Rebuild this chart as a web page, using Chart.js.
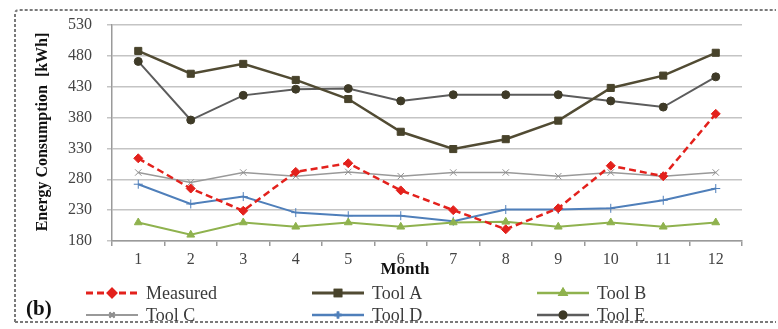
<!DOCTYPE html>
<html>
<head>
<meta charset="utf-8">
<script src="https://cdn.jsdelivr.net/npm/chart.js@4.4.1/dist/chart.umd.min.js"></script>
<style>
  html, body { margin: 0; padding: 0; background: #fff; }
  #wrap { width: 778px; height: 329px; position: relative; }
</style>
</head>
<body>
<div id="wrap"><canvas id="canvas" width="778" height="329"></canvas></div>
<script>
var months = ['1', '2', '3', '4', '5', '6', '7', '8', '9', '10', '11', '12'];
var measured = [314, 265, 229, 292, 306, 262, 230, 199, 233, 302, 285, 386];
var toolA = [488, 451, 467, 441, 410, 357, 329, 345, 375, 428, 448, 485];
var toolB = [210, 190, 210, 203, 210, 203, 210, 211, 203, 210, 203, 210];
var toolC = [291, 275, 291, 285, 292, 285, 291, 291, 285, 291, 285, 291];
var toolD = [272, 240, 252, 226, 221, 221, 212, 231, 231, 233, 246, 265];
var toolE = [471, 376, 416, 426, 427, 407, 417, 417, 417, 407, 397, 446];
var yTicks = [180, 230, 280, 330, 380, 430, 480, 530];

var serif = '"Liberation Serif", "Times New Roman", serif';

// legend is drawn by hand: 3 columns x 2 rows like the original figure
var legendCols = [86, 312, 537];
var legendRows = [293, 315];

var figurePlugin = {
    id: 'figure',
    afterDraw: function (chart) {
        var ctx = chart.ctx;
        ctx.save();

        // dashed frame
        ctx.strokeStyle = '#7a7a7a';
        ctx.lineWidth = 2;
        ctx.setLineDash([3, 2]);
        ctx.beginPath();
        ctx.moveTo(15, 322);
        ctx.lineTo(15, 14);
        ctx.quadraticCurveTo(15, 10, 19, 10);
        ctx.lineTo(776, 10);
        ctx.moveTo(15, 322);
        ctx.lineTo(776, 322);
        ctx.stroke();
        ctx.setLineDash([]);

        // y title
        ctx.fillStyle = '#111';
        ctx.font = 'bold 16px ' + serif;
        ctx.textAlign = 'center';
        ctx.textBaseline = 'middle';
        ctx.save();
        ctx.translate(43, 132);
        ctx.rotate(-Math.PI / 2);
        ctx.fillText('Energy Consumption  [kWh]', 0, 0);
        ctx.restore();

        // x title
        ctx.font = 'bold 17px ' + serif;
        ctx.fillText('Month', 405, 270);

        // (b)
        ctx.font = 'bold 21px ' + serif;
        ctx.textAlign = 'left';
        ctx.fillText('(b)', 26, 310);

        // legend
        chart.data.datasets.forEach(function (ds, k) {
            var x1 = legendCols[k % 3], x2 = x1 + 52, y = legendRows[Math.floor(k / 3)];
            ctx.strokeStyle = ds.borderColor;
            ctx.lineWidth = ds.borderWidth + 0.5;
            ctx.setLineDash(ds.borderDash || []);
            ctx.beginPath();
            ctx.moveTo(x1, y);
            ctx.lineTo(x2, y);
            ctx.stroke();
            ctx.setLineDash([]);
            Chart.helpers.drawPoint(ctx, {
                pointStyle: ds.pointStyle,
                radius: ds.pointRadius * 0.8,
                borderWidth: ds.pointBorderWidth || 1,
                rotation: 0
            }, (x1 + x2) / 2, y);
            ctx.fillStyle = ds.pointBackgroundColor;
            ctx.strokeStyle = ds.pointBorderColor;
            ctx.fill();
            ctx.stroke();
            ctx.fillStyle = '#3a3a3a';
            ctx.font = '18px ' + serif;
            ctx.textAlign = 'left';
            ctx.textBaseline = 'middle';
            ctx.fillText(ds.label, x2 + 8, y + 1);
        });
        ctx.restore();
    }
};

function series(label, data, line, point, style, radius, width, dash) {
    return {
        label: label,
        data: data,
        borderColor: line,
        borderWidth: width,
        borderDash: dash || [],
        backgroundColor: point,
        pointBackgroundColor: point,
        pointBorderColor: point,
        pointBorderWidth: 1,
        pointStyle: style,
        pointRadius: radius,
        fill: false,
        tension: 0
    };
}

var ctx = document.getElementById('canvas');
var myChart = new Chart(ctx, {
    type: 'line',
    data: {
        labels: months,
        datasets: [
            series('Measured', measured, '#e3211c', '#e3211c', 'rectRot', 4.5, 2.5, [7, 4]),
            series('Tool A', toolA, '#514b33', '#48432b', 'rect', 5, 2.5),
            series('Tool B', toolB, '#8fb24e', '#8fb24e', 'triangle', 4.5, 2),
            series('Tool C', toolC, '#999999', '#8f8f8f', 'crossRot', 4.5, 1.5),
            series('Tool D', toolD, '#4f7fba', '#4f7fba', 'cross', 4.5, 2),
            series('Tool E', toolE, '#5c5c5c', '#3e3a27', 'circle', 4, 2)
        ]
    },
    options: {
        responsive: false,
        animation: false,
        devicePixelRatio: 1,
        layout: { padding: { left: 0, right: 36, top: 25, bottom: 0 } },
        plugins: {
            legend: { display: false },
            tooltip: { enabled: false }
        },
        scales: {
            x: {
                offset: true,
                grid: {
                    offset: true,
                    drawOnChartArea: false,
                    drawTicks: true,
                    tickLength: 5,
                    color: '#9a9a9a',
                    lineWidth: 1.5
                },
                border: { color: '#9a9a9a', width: 1.5 },
                ticks: {
                    color: '#444',
                    padding: 4,
                    maxRotation: 0,
                    autoSkip: false,
                    font: { family: serif, size: 16 }
                },
                afterFit: function (scale) { scale.height = 88; }
            },
            y: {
                min: 180,
                max: 530,
                afterBuildTicks: function (scale) {
                    scale.ticks = yTicks.map(function (v) { return { value: v }; });
                },
                grid: {
                    color: '#c4c4c4',
                    lineWidth: 1.5,
                    drawTicks: true,
                    tickLength: 5
                },
                border: { color: '#9a9a9a', width: 1.5 },
                ticks: {
                    color: '#444',
                    padding: 15,
                    autoSkip: false,
                    font: { family: serif, size: 16 }
                },
                afterFit: function (scale) { scale.width = 112; }
            }
        }
    },
    plugins: [figurePlugin]
});
</script>
</body>
</html>
